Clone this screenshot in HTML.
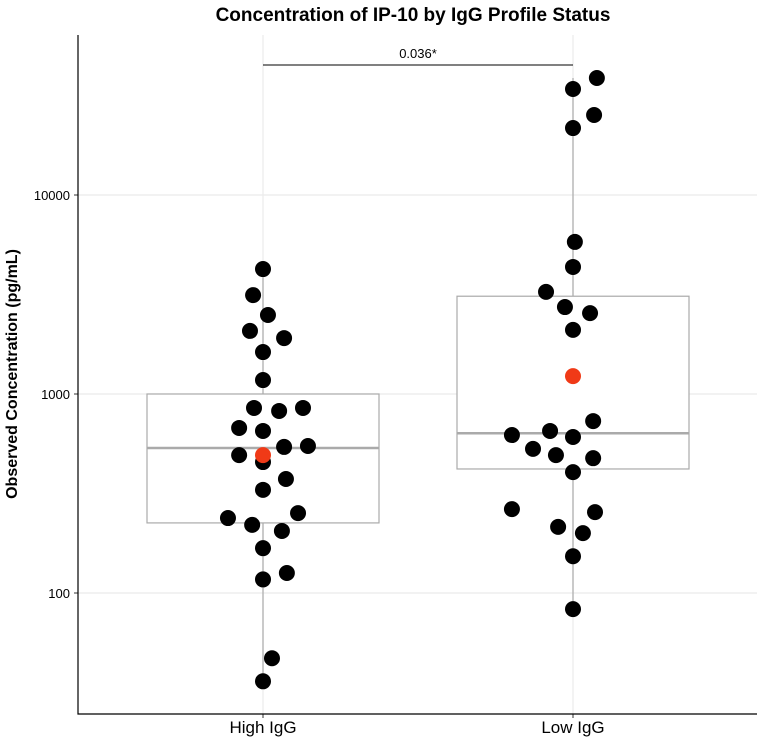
<!DOCTYPE html>
<html><head><meta charset="utf-8"><style>
body{margin:0;background:#fff;width:762px;height:743px;overflow:hidden}
svg text{font-family:"Liberation Sans",Arial,sans-serif}
</style></head><body>
<svg id="chart" width="762" height="743" xmlns="http://www.w3.org/2000/svg">
<text x="413" y="21" text-anchor="middle" font-size="19" font-weight="bold">Concentration of IP-10 by IgG Profile Status</text>
<text transform="translate(17,374) rotate(-90)" text-anchor="middle" font-size="16" font-weight="bold">Observed Concentration (pg/mL)</text>
<g id="grid"></g><g id="boxes"></g><g id="pts"></g><g id="axes"></g>
</svg>
<script>
const categories=["High IgG","Low IgG"];
const highValues=[4246,3140,2495,2075,1910,1625,1175,851,822,851,675,652,548,542,493,455,374,330,252,238,220,205,168,126,117,47,36];
const highJitter=[0,-0.032,0.016,-0.042,0.068,0,0,-0.029,0.052,0.129,-0.077,0,0.145,0.068,-0.077,0,0.074,0,0.113,-0.113,-0.035,0.061,0,0.077,0,0.029,0];
const lowValues=[38730,34100,25230,21700,5810,4350,3260,2735,2550,2100,731,652,622,608,530,493,476,405,264,255,215,200,153,83];
const lowJitter=[0.077,0,0.068,0,0.006,0,-0.087,-0.026,0.055,0,0.065,-0.074,-0.197,0,-0.129,-0.055,0.065,0,-0.197,0.071,-0.048,0.032,0,0];
const q1=[225,420], medians=[535,635], q3=[1000,3100], whiskLo=[36,83], whiskHi=[4246,38730], means=[493,1230];
const yTicks=[100,1000,10000];
const pLabel="0.036*";
const NS="http://www.w3.org/2000/svg";
const L=78,R=757,T=35,B=714;
const y=v=>195+(4-Math.log10(v))*199;
const x=i=>263+i*310;
const bw=310;
function mk(p,t,a){const e=document.createElementNS(NS,t);for(const k in a)e.setAttribute(k,a[k]);p.appendChild(e);return e;}
const grid=document.getElementById('grid'),boxes=document.getElementById('boxes'),pts=document.getElementById('pts'),axes=document.getElementById('axes');
yTicks.forEach(v=>{const g=mk(grid,'line',{x1:L,x2:R,y1:y(v),y2:y(v),stroke:'#ebebeb','stroke-width':1.2});


const t=mk(axes,'text',{x:70,y:y(v)+5,'text-anchor':'end','font-size':13});t.textContent=v;


const tk=mk(axes,'line',{x1:74,x2:78,y1:y(v),y2:y(v),stroke:'#333'});

});
categories.forEach((c,i)=>{
const g=mk(grid,'line',{x1:x(i),x2:x(i),y1:T,y2:B,stroke:'#ebebeb','stroke-width':1.2});


const w1=mk(boxes,'line',{x1:x(i),x2:x(i),y1:y(whiskHi[i]),y2:y(q3[i]),stroke:'#aaa','stroke-width':1.2});


const w2=mk(boxes,'line',{x1:x(i),x2:x(i),y1:y(q1[i]),y2:y(whiskLo[i]),stroke:'#aaa','stroke-width':1.2});


const b=mk(boxes,'rect',{x:x(i)-116,y:y(q3[i]),width:232,height:y(q1[i])-y(q3[i]),fill:'#fff',stroke:'#aaa','stroke-width':1.2});


const m=mk(boxes,'line',{x1:x(i)-116,x2:x(i)+116,y1:y(medians[i]),y2:y(medians[i]),stroke:'#aaa','stroke-width':2.5});


const t=mk(axes,'text',{x:x(i),y:733,'text-anchor':'middle','font-size':17});t.textContent=c;


const tk=mk(axes,'line',{x1:x(i),x2:x(i),y1:B,y2:B+4,stroke:'#333'});


});
[[highValues,highJitter,0],[lowValues,lowJitter,1]].forEach(([vals,jit,i])=>{
vals.forEach((v,k)=>{const c=mk(pts,'circle',{cx:x(i)+(jit[k]||0)*bw,cy:y(v),r:8,fill:'#000'});

});
});
means.forEach((v,i)=>{const c=mk(pts,'circle',{cx:x(i),cy:y(v),r:8,fill:'#f03a17'});

});
const ax=mk(axes,'path',{d:`M${L} ${T}V${B}H${R}`,fill:'none',stroke:'#000','stroke-width':1.2});


const sb=mk(axes,'line',{x1:x(0),x2:x(1),y1:65,y2:65,stroke:'#000','stroke-width':1});


const st=mk(axes,'text',{x:(x(0)+x(1))/2,y:58,'text-anchor':'middle','font-size':13});st.textContent=pLabel;


</script>
</body></html>
